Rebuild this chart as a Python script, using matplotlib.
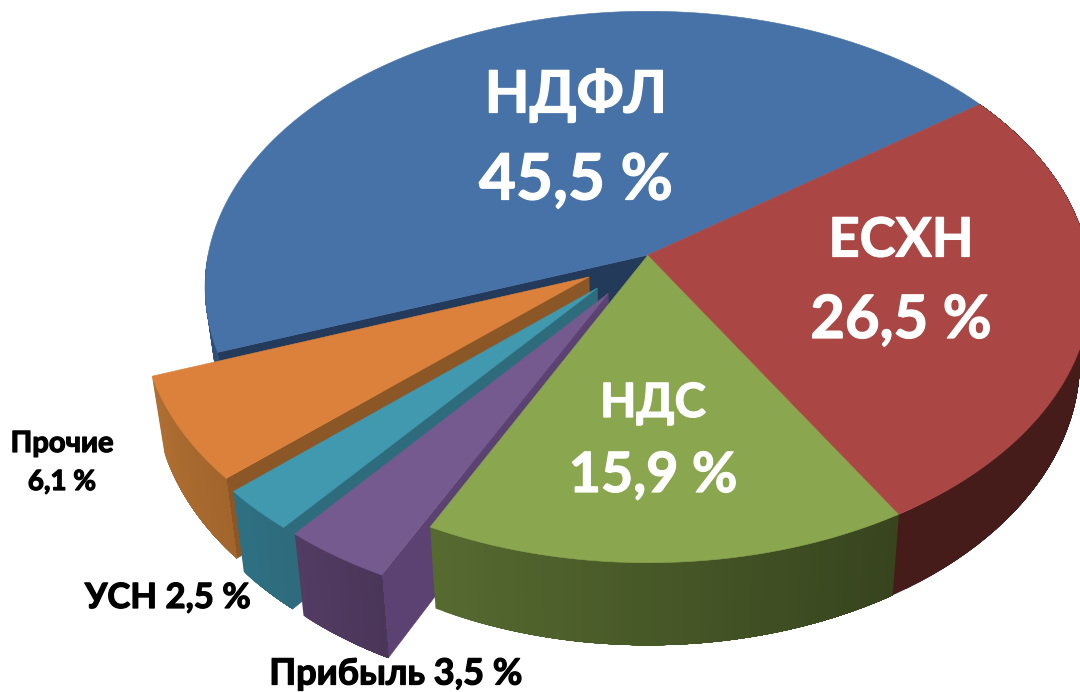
import numpy as np
import matplotlib
matplotlib.use("Agg")
import matplotlib.pyplot as plt
import matplotlib.patheffects as pe
from matplotlib.patches import Polygon

# shares in percent, counter-clockwise starting from the blue/red edge
names = ['НДФЛ', 'Прочие', 'УСН', 'Прибыль', 'НДС', 'ЕСХН']
shares = [45.5, 6.1, 2.5, 3.5, 15.9, 26.5]
explode = [0, 0.155, 0.165, 0.165, 0, 0]
start_angle = 36.3

top_colors = ['#4672A8', '#DC813B', '#4099AF', '#745A8E', '#8AA64E', '#AA4744']
cut_colors = ['#233A5A', '#8B5727', '#2E6C7D', '#5B4272', '#55692F', '#461C1A']
rim_from = ['#2E4F78', '#B06F32', '#2E7083', '#533C63', '#566A30', '#461C1A']
rim_to = ['#2E4F78', '#A2652C', '#2E6C7D', '#4A3659', '#37441E', '#461C1A']

big_labels = [['НДФЛ', '45,5 %'], ['ЕСХН', '26,5 %'], ['НДС', '15,9 %']]
small_labels = [['Прочие', '6,1 %'], ['УСН 2,5 %'], ['Прибыль 3,5 %']]

# fake 3d projection of the unit disc
cx, cy = 648, 255
A, B, k = 440, 272, 0.116
depth = 73
shrink = 0.975


def proj(u, v):
    s = 1 / (1 - k * v)
    return cx + A * u * s, cy + B * v * s


def lower(x, y, v):
    s = 1 / (1 - k * v)
    return cx + (x - cx) * shrink, y + depth * s


def edge(a, off):
    a = np.radians(a)
    return off[0] + np.cos(a), off[1] - np.sin(a)


def rgb(c):
    return np.array(matplotlib.colors.to_rgb(c))


def draw_top(ax, a0, a1, off, color, z):
    ang = np.linspace(a0, a1, 100)
    u, v = edge(ang, off)
    x, y = proj(u, v)
    tx, ty = proj(off[0], off[1])
    pts = np.column_stack([np.r_[tx, x], np.r_[ty, y]])
    ax.add_patch(Polygon(pts, closed=True, fc=color, ec=color, lw=0.4, zorder=z))


def draw_rim(ax, a0, a1, off, c0, c1, z):
    # every piece runs to the end of the arc, so no seams show between pieces
    ang = np.linspace(a0, a1, 50)
    u, v = edge(ang, off)
    x, y = proj(u, v)
    xl, yl = lower(x, y, v)
    for i in range(len(ang) - 1):
        t = i / (len(ang) - 2)
        col = rgb(c0) * (1 - t) + rgb(c1) * t
        pts = np.column_stack([np.r_[x[i:], xl[i:][::-1]], np.r_[y[i:], yl[i:][::-1]]])
        ax.add_patch(Polygon(pts, closed=True, fc=col, ec='none', zorder=z))


def draw_cut(ax, a, off, color, z):
    u, v = edge(a, off)
    x, y = proj(u, v)
    tx, ty = proj(off[0], off[1])
    xl, yl = lower(x, y, v)
    txl, tyl = lower(tx, ty, off[1])
    pts = [(tx, ty), (x, y), (xl, yl), (txl, tyl)]
    ax.add_patch(Polygon(pts, closed=True, fc=color, ec=color, lw=0.4, zorder=z))


def put_lines(ax, lines, x, ys, sizes, color):
    for line, y, size in zip(lines, ys, sizes):
        t = ax.text(x, y, line, color=color, fontsize=size, fontweight='bold',
                    family=['Lato', 'Open Sans', 'DejaVu Sans'],
                    ha='center', va='center', zorder=20)
        t.set_path_effects([pe.withStroke(linewidth=0.9, foreground=color)])


fig = plt.figure(figsize=(10.8, 6.92), dpi=100)
ax = fig.add_axes([0, 0, 1, 1])
ax.set_xlim(0, 1080)
ax.set_ylim(692, 0)
ax.axis('off')

spans = np.array(shares) / sum(shares) * 360
starts = start_angle + np.r_[0, np.cumsum(spans)[:-1]]

# painter order: blue, the pulled out slices, then green and red in front
z = 1
for i in range(len(shares)):
    a0, a1 = starts[i], starts[i] + spans[i]
    mid = np.radians((a0 + a1) / 2)
    off = (explode[i] * np.cos(mid), -explode[i] * np.sin(mid))
    if i < 4:
        draw_cut(ax, a1, off, cut_colors[i], z)
    vis0 = a0 if i > 0 else 180
    draw_rim(ax, vis0, a1, off, rim_from[i], rim_to[i], z)
    draw_top(ax, a0, a1, off, top_colors[i], z + 0.5)
    z += 1

put_lines(ax, big_labels[0], 576, [96, 181], [42, 46], 'white')
put_lines(ax, big_labels[1], 901, [241, 321], [39, 43], 'white')
put_lines(ax, big_labels[2], 653, [403, 476], [34, 40], 'white')
put_lines(ax, small_labels[0], 62, [444, 482], [21, 20], 'black')
put_lines(ax, small_labels[1], 168, [598], [25], 'black')
put_lines(ax, small_labels[2], 396, [674], [26], 'black')

fig.savefig('out.png', dpi=100, facecolor='white')
